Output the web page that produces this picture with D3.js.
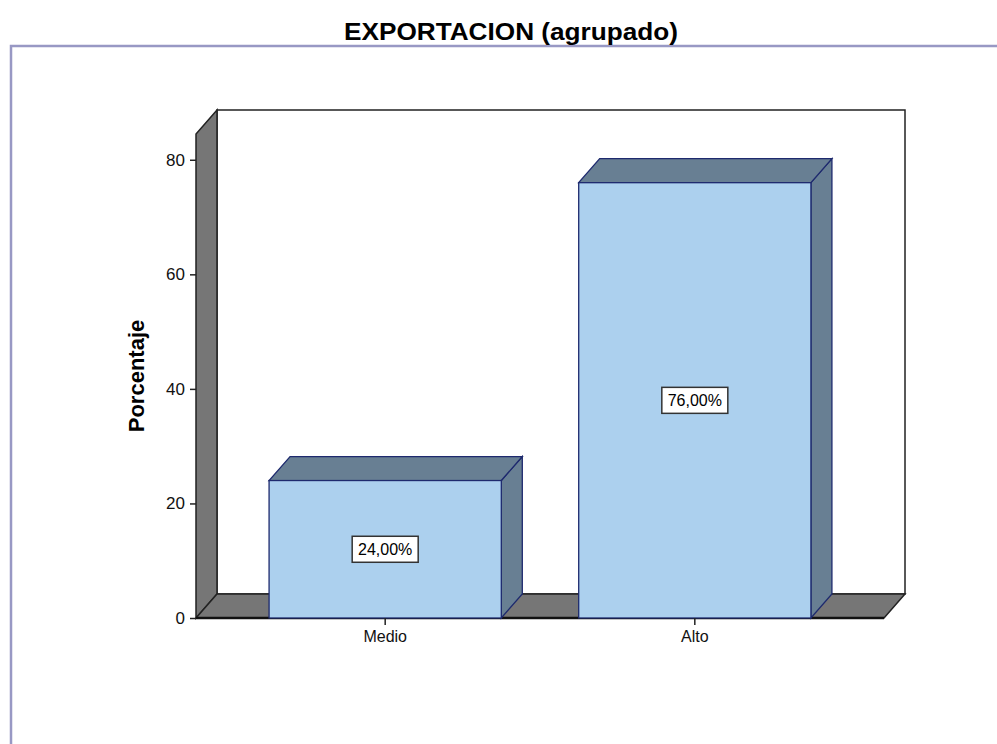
<!DOCTYPE html>
<html>
<head>
<meta charset="utf-8">
<script src="https://cdn.jsdelivr.net/npm/d3@7"></script>
<style>
  body { margin: 0; background: #fff; }
  text { font-family: "Liberation Sans", Arial, sans-serif; }
</style>
</head>
<body>
<svg id="main"></svg>
<script>
// data
var categories = ["Medio", "Alto"];
var percents = [24, 76];
var yTicks = [0, 20, 40, 60, 80];
var titleText = "EXPORTACION (agrupado)";
var yTitle = "Porcentaje";

var W = 997, H = 744;
var left = 196, right = 884, bottom = 618;
var dx = 21, dy = 24; // 3d depth

var s = d3.select("#main").attr("width", W).attr("height", H);

var x = d3.scaleBand().domain(categories).range([left, right])
  .paddingInner(0.25).paddingOuter(0.236);
var y = d3.scaleLinear().domain([0, 84.5]).range([bottom, 134]);

// outer frame
s.append("path")
  .attr("d", "M11," + H + "V46H" + W)
  .attr("fill", "none").attr("stroke", "#9898c4").attr("stroke-width", 2.5);

// title
s.append("text")
  .attr("x", 511).attr("y", 40)
  .attr("text-anchor", "middle")
  .attr("textLength", 334).attr("lengthAdjust", "spacingAndGlyphs")
  .style("font-size", "24px").style("font-weight", "bold")
  .text(titleText);

var yTop = y.range()[1];
var wall = s.append("g");

// back wall
wall.append("rect")
  .attr("x", left + dx).attr("y", yTop - dy)
  .attr("width", right - left).attr("height", bottom - yTop)
  .attr("fill", "#fff").attr("stroke", "#222").attr("stroke-width", 1.5);

// left wall
wall.append("path")
  .attr("d", "M" + left + "," + bottom + "V" + yTop + "L" + (left + dx) + "," + (yTop - dy) +
    "V" + (bottom - dy) + "Z")
  .attr("fill", "#767676").attr("stroke", "#222").attr("stroke-width", 1.5);

// floor
wall.append("path")
  .attr("d", "M" + left + "," + bottom + "H" + right + "L" + (right + dx) + "," + (bottom - dy) +
    "H" + (left + dx) + "Z")
  .attr("fill", "#767676").attr("stroke", "#222").attr("stroke-width", 1.5);
wall.append("line")
  .attr("x1", left).attr("x2", right).attr("y1", bottom).attr("y2", bottom)
  .attr("stroke", "#111").attr("stroke-width", 2.5);

// bars
var bars = s.append("g").selectAll("g")
  .data(categories.map(function(c, i) { return {cat: c, v: percents[i]}; }))
  .enter().append("g");

bars.append("path") // side
  .attr("d", function(d) {
    var x1 = x(d.cat) + x.bandwidth(), yt = y(d.v);
    return "M" + x1 + "," + yt + "L" + (x1 + dx) + "," + (yt - dy) + "V" + (bottom - dy) +
      "L" + x1 + "," + bottom + "Z";
  })
  .attr("fill", "#687f93").attr("stroke", "#1e2a6e").attr("stroke-width", 1.3);

bars.append("path") // top
  .attr("d", function(d) {
    var x0 = x(d.cat), x1 = x0 + x.bandwidth(), yt = y(d.v);
    return "M" + x0 + "," + yt + "H" + x1 + "L" + (x1 + dx) + "," + (yt - dy) +
      "H" + (x0 + dx) + "Z";
  })
  .attr("fill", "#687f93").attr("stroke", "#1e2a6e").attr("stroke-width", 1.3);

bars.append("rect") // front
  .attr("x", function(d) { return x(d.cat); })
  .attr("y", function(d) { return y(d.v); })
  .attr("width", x.bandwidth())
  .attr("height", function(d) { return bottom - y(d.v); })
  .attr("fill", "#acd0ee").attr("stroke", "#1e2a6e").attr("stroke-width", 1.3);

// value labels
var lab = bars.append("g")
  .attr("transform", function(d) {
    return "translate(" + (x(d.cat) + x.bandwidth() / 2) + "," + ((y(d.v) + bottom) / 2) + ")";
  });
lab.append("rect")
  .attr("x", -33).attr("y", -13).attr("width", 66).attr("height", 26)
  .attr("fill", "#fff").attr("stroke", "#333").attr("stroke-width", 1.5);
lab.append("text")
  .attr("text-anchor", "middle").attr("dy", "0.36em")
  .style("font-size", "16px")
  .text(function(d) { return d3.format(".2f")(d.v).replace(".", ",") + "%"; });

// y axis
var ya = s.append("g").attr("transform", "translate(" + left + ",0)")
  .call(d3.axisLeft(y).tickValues(yTicks).tickSize(6).tickPadding(5).tickFormat(d3.format("d")));
ya.select(".domain").remove();
ya.selectAll("line").attr("stroke", "#222").attr("stroke-width", 1.5);
ya.selectAll("text").style("font-size", "17px").attr("fill", "#111")
  .style("font-family", "'Liberation Sans', Arial, sans-serif");

// x axis
var xa = s.append("g").attr("transform", "translate(0," + bottom + ")")
  .call(d3.axisBottom(x).tickSize(7).tickPadding(6));
xa.select(".domain").remove();
xa.selectAll("line").attr("stroke", "#222").attr("stroke-width", 1.5);
xa.selectAll("text").style("font-size", "16px").attr("fill", "#111")
  .style("font-family", "'Liberation Sans', Arial, sans-serif");

// y title
s.append("text")
  .attr("transform", "translate(144,376) rotate(-90)")
  .attr("text-anchor", "middle")
  .style("font-size", "22px").style("font-weight", "bold")
  .text(yTitle);
</script>
</body>
</html>
